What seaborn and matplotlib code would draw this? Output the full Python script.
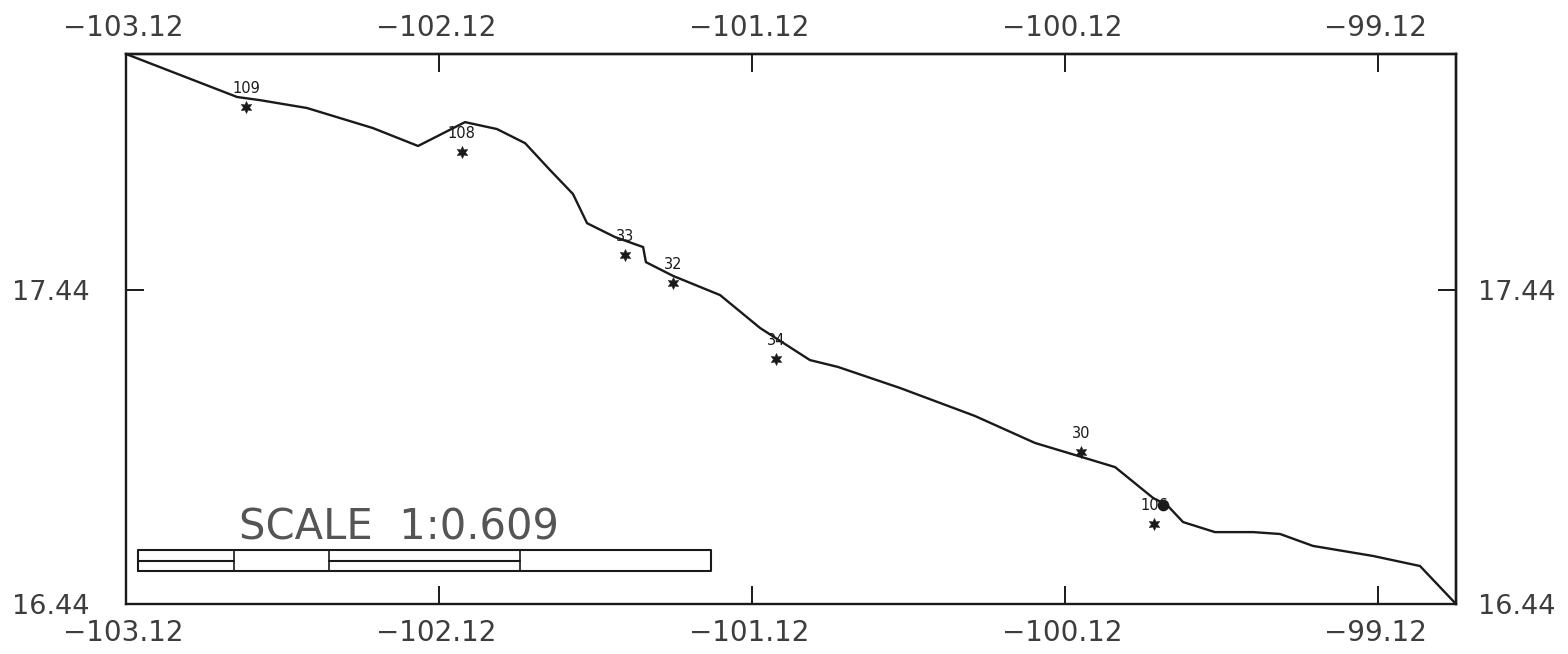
import matplotlib
matplotlib.use('Agg')
import matplotlib.pyplot as plt
from matplotlib.transforms import ScaledTranslation
import seaborn as sns
import pandas as pd

# Coastline trace
coast_lon = [-103.120, -102.765, -102.692, -102.542, -102.331, -102.187, -102.037, -101.935,
             -101.845, -101.765, -101.692, -101.647, -101.558, -101.468, -101.459, -101.372,
             -101.222, -101.094, -100.935, -100.845, -100.647, -100.408, -100.216, -100.066,
             -99.960, -99.839, -99.794, -99.743, -99.641, -99.519, -99.433, -99.328,
             -99.136, -98.986, -98.871]
coast_lat = [18.192, 18.055, 18.045, 18.020, 17.956, 17.899, 17.975, 17.953,
             17.908, 17.822, 17.746, 17.653, 17.609, 17.577, 17.529, 17.485,
             17.424, 17.319, 17.217, 17.195, 17.128, 17.039, 16.953, 16.908,
             16.876, 16.778, 16.755, 16.701, 16.669, 16.669, 16.663, 16.625,
             16.593, 16.561, 16.440]

# Stations
station_names = ['109', '108', '33', '32', '34', '30', '106']
station_lon = [-102.737, -102.047, -101.526, -101.372, -101.043, -100.069, -99.836]
station_lat = [18.023, 17.879, 17.551, 17.462, 17.220, 16.924, 16.695]

# Inked blob on the coast next to station 106
blob_lon = [-99.807]
blob_lat = [16.755]

# Scale bar
bar_edges = [-103.082, -102.775, -102.471, -101.861, -101.251]
bar_bottom = 16.545
bar_mid = 16.577
bar_top = 16.612
scale_text = 'SCALE  1:0.609'

lon_ticks = [-103.12, -102.12, -101.12, -100.12, -99.12]
lat_ticks = [16.44, 17.44]
lon_labels = ['\u2212103.12', '\u2212102.12', '\u2212101.12', '\u2212100.12', '\u221299.12']
lat_labels = ['16.44', '17.44']

sns.set_style('ticks')
plt.rcParams['font.family'] = ['DejaVu Sans']

W, H = 1568, 654
INK = '#1a1a1a'
TEXT = '#3d3d3d'
fig = plt.figure(figsize=(W / 100, H / 100), dpi=100)
ax = fig.add_axes([126 / W, 1 - 604 / H, 1330 / W, 550 / H])

coast = pd.DataFrame({'lon': coast_lon, 'lat': coast_lat})
stations = pd.DataFrame({'lon': station_lon, 'lat': station_lat, 'name': station_names})

sns.lineplot(data=coast, x='lon', y='lat', sort=False, estimator=None, color=INK,
             linewidth=1.7, ax=ax, clip_on=False)
sns.scatterplot(data=stations, x='lon', y='lat', marker=(6, 1, 0), s=75, color=INK,
                linewidth=0.4, edgecolor=INK, ax=ax)
sns.scatterplot(x=blob_lon, y=blob_lat, marker='o', s=70, color=INK, linewidth=0, ax=ax)

for _, row in stations.iterrows():
    ax.annotate(row['name'], (row['lon'], row['lat']), xytext=(0, 13.5), textcoords='offset points',
                ha='center', va='center', fontsize=10.5, color=INK)

# Scale bar: outer box, dividers, and the half line in alternating cells
ax.plot([bar_edges[0], bar_edges[-1], bar_edges[-1], bar_edges[0], bar_edges[0]],
        [bar_bottom, bar_bottom, bar_top, bar_top, bar_bottom], color=INK, lw=1.5)
for edge in bar_edges[1:-1]:
    ax.plot([edge, edge], [bar_bottom, bar_top], color=INK, lw=1.2)
for i in (0, 2):
    ax.plot([bar_edges[i], bar_edges[i + 1]], [bar_mid, bar_mid], color=INK, lw=1.5)
ax.text((bar_edges[0] + bar_edges[-1]) / 2 - 0.082, bar_top + 0.006, scale_text, ha='center', va='bottom',
        fontsize=30, color='#555555')

ax.set_xlim(-103.12, -98.871)
ax.set_ylim(16.44, 18.192)
ax.set_xlabel('')
ax.set_ylabel('')
ax.set_xticks(lon_ticks, lon_labels)
ax.set_yticks(lat_ticks, lat_labels)
ax.tick_params(axis='both', which='major', direction='in', length=13, width=1.4, color=INK, labelcolor=TEXT)
ax.tick_params(axis='x', labelsize=20, pad=11)
ax.tick_params(axis='y', labelsize=19.5, pad=26)

# Mirrored axes so the top and right labels can sit at their own distance
top = ax.secondary_xaxis('top')
top.set_xticks(lon_ticks, lon_labels)
top.tick_params(direction='in', length=13, width=1.4, color=INK, labelcolor=TEXT, labelsize=20, pad=8.5)
right = ax.secondary_yaxis('right')
right.set_yticks(lat_ticks, lat_labels)
right.tick_params(direction='in', length=13, width=1.4, color=INK, labelcolor=TEXT, labelsize=19.5, pad=16)

# The lon labels sit a little left of their ticks in the source
nudge = ScaledTranslation(-3 / 100, 0, fig.dpi_scale_trans)
for lab in ax.get_xticklabels() + top.get_xticklabels():
    lab.set_transform(lab.get_transform() + nudge)

for spine in ax.spines.values():
    spine.set_linewidth(1.7)
    spine.set_color(INK)
top.spines['top'].set_linewidth(1.7)
right.spines['right'].set_linewidth(1.7)

fig.savefig('out.png', dpi=100)
